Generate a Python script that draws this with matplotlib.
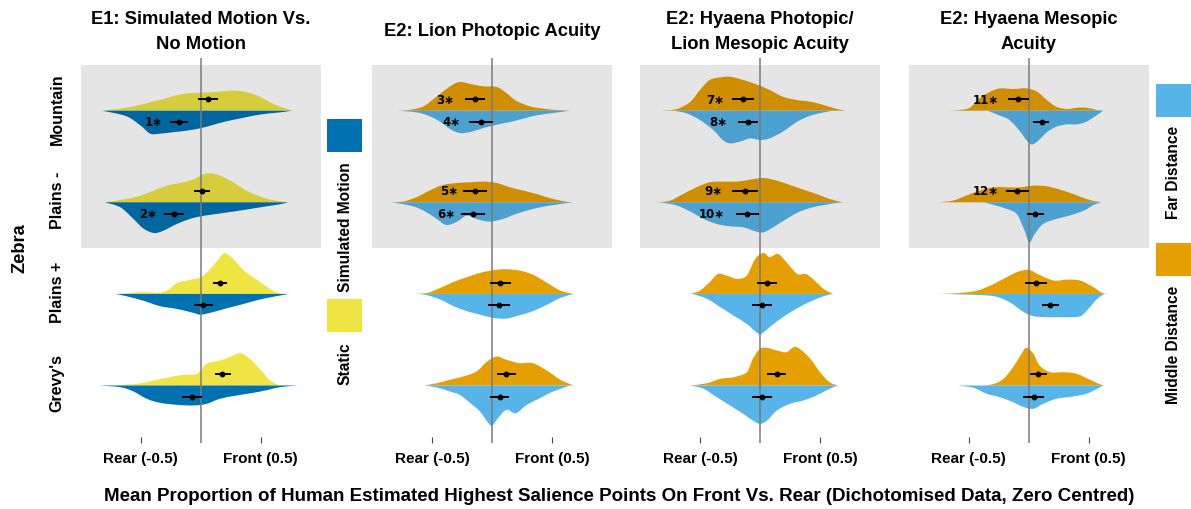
import numpy as np
import matplotlib
matplotlib.use("Agg")
import matplotlib.pyplot as plt
from matplotlib.patches import Rectangle, PathPatch
from matplotlib.path import Path

plt.rcParams['font.family'] = ['Liberation Sans', 'DejaVu Sans']
plt.rcParams['font.weight'] = 'bold'

# ---- data ----
ROWS = ["Mountain", "Plains -", "Plains +", "Grevy's"]
TITLES = ["E1: Simulated Motion Vs.\nNo Motion", "E2: Lion Photopic Acuity",
          "E2: Hyaena Photopic/\nLion Mesopic Acuity", "E2: Hyaena Mesopic\nAcuity"]
TICK_LABELS = ["Rear (-0.5)", "Front (0.5)"]
XLABEL = ("Mean Proportion of Human Estimated Highest Salience Points On Front Vs. Rear "
          "(Dichotomised Data, Zero Centred)")

# half-violin profiles: [x, half height in px] per row (Mountain, Plains -, Plains +, Grevy's)
P1_UPPER = [
    [[-0.82, 0], [-0.8, 0.3], [-0.7, 1.5], [-0.6, 3.5], [-0.5, 6], [-0.4, 9], [-0.3, 12], [-0.2, 15.5], [-0.1, 17.5], [0, 18], [0.1, 18.5], [0.2, 19.5], [0.3, 20], [0.4, 18], [0.5, 13.5], [0.6, 7], [0.7, 2.5], [0.77, 0]],
    [[-0.8, 0], [-0.62, 3.3], [-0.5, 6.7], [-0.39, 11.7], [-0.28, 16.7], [-0.17, 19.3], [-0.06, 23], [0.02, 28], [0.08, 29], [0.16, 26.7], [0.27, 20], [0.38, 11.7], [0.49, 6], [0.6, 2.3], [0.72, 0]],
    [[-0.7, 0], [-0.6, 0.8], [-0.48, 1.7], [-0.34, 1.3], [-0.26, 5], [-0.2, 10.7], [-0.12, 13.3], [0, 16.7], [0.08, 25], [0.15, 35], [0.2, 40.7], [0.27, 35], [0.36, 23.3], [0.49, 12.3], [0.6, 3.3], [0.68, 0]],
    [[-0.75, 0], [-0.53, 1.7], [-0.39, 5], [-0.26, 8.3], [-0.14, 10.7], [-0.03, 11.7], [0.05, 21.7], [0.16, 25], [0.24, 28.3], [0.33, 32.3], [0.41, 26.7], [0.49, 16.7], [0.58, 5], [0.66, 0]],
]
P1_LOWER = [
    [[-0.82, 0], [-0.62, 5.5], [-0.5, 15], [-0.42, 23], [-0.34, 23], [-0.23, 21.5], [-0.12, 20], [0, 17.5], [0.1, 14.3], [0.2, 11], [0.33, 7.7], [0.44, 5], [0.55, 3], [0.66, 1.7], [0.76, 0]],
    [[-0.8, 0], [-0.67, 5], [-0.56, 16.7], [-0.48, 26], [-0.39, 30.7], [-0.31, 28.3], [-0.2, 21.7], [-0.09, 16.7], [0, 14], [0.13, 11.7], [0.27, 9.3], [0.41, 6.7], [0.55, 4], [0.66, 2], [0.73, 0]],
    [[-0.71, 0], [-0.62, 2.3], [-0.48, 6.7], [-0.34, 12.3], [-0.2, 15], [-0.06, 19], [0, 20.7], [0.1, 18.3], [0.22, 14.3], [0.36, 10], [0.49, 5.7], [0.63, 2.3], [0.74, 0]],
    [[-0.85, 0], [-0.67, 1.7], [-0.56, 6], [-0.45, 13.3], [-0.34, 17.3], [-0.2, 19.3], [-0.06, 20], [0.05, 18.3], [0.16, 13.3], [0.3, 10], [0.44, 7.3], [0.55, 4.7], [0.66, 1.7], [0.81, 0]],
]
P2_UPPER = [
    [[-0.78, 0], [-0.68, 1], [-0.57, 4.3], [-0.46, 14.3], [-0.35, 24.3], [-0.27, 28.7], [-0.18, 26.7], [-0.07, 24.3], [0.04, 23.7], [0.12, 17.7], [0.2, 10], [0.32, 4.3], [0.43, 2], [0.54, 0.7], [0.66, 0]],
    [[-0.85, 0], [-0.74, 0.7], [-0.63, 5], [-0.52, 11.7], [-0.41, 17.3], [-0.29, 19.3], [-0.18, 20], [-0.07, 20.7], [0.04, 19.3], [0.15, 15], [0.26, 11.7], [0.37, 8.3], [0.51, 3.3], [0.65, 0]],
    [[-0.66, 0], [-0.54, 1], [-0.43, 6], [-0.32, 12], [-0.21, 16.7], [-0.1, 21], [0.01, 23.7], [0.12, 24.7], [0.23, 23.3], [0.34, 19.3], [0.46, 11], [0.57, 3.3], [0.68, 0]],
    [[-0.57, 0], [-0.46, 2.3], [-0.35, 5.7], [-0.24, 9], [-0.13, 14], [-0.04, 24], [0.04, 29], [0.12, 25.7], [0.23, 22.3], [0.34, 22.3], [0.46, 14.7], [0.57, 5.7], [0.68, 0]],
]
P2_LOWER = [
    [[-0.78, 0], [-0.6, 2.3], [-0.46, 9], [-0.35, 18.3], [-0.27, 22.3], [-0.18, 21.3], [-0.07, 17.3], [0.04, 14], [0.15, 11.3], [0.26, 8], [0.37, 4.7], [0.51, 2.3], [0.65, 0]],
    [[-0.84, 0], [-0.68, 3.3], [-0.57, 8.3], [-0.46, 16.7], [-0.38, 22.7], [-0.29, 19.3], [-0.21, 13.3], [-0.13, 16.7], [-0.02, 19.3], [0.09, 16.7], [0.2, 11.7], [0.34, 6.7], [0.48, 3.3], [0.68, 0]],
    [[-0.62, 0], [-0.54, 1.3], [-0.43, 5.7], [-0.32, 12.3], [-0.21, 17.3], [-0.1, 20.7], [0.01, 24], [0.12, 24.7], [0.23, 21.3], [0.34, 17.3], [0.46, 10.7], [0.57, 4], [0.68, 0]],
    [[-0.57, 0], [-0.46, 2], [-0.35, 6], [-0.27, 9.3], [-0.18, 17.7], [-0.1, 26], [-0.04, 36], [0, 40.3], [0.05, 32.7], [0.12, 24.3], [0.2, 27.7], [0.29, 19.3], [0.4, 12.7], [0.51, 6], [0.65, 0]],
]
P3_UPPER = [
    [[-0.82, 0], [-0.69, 1.7], [-0.58, 9], [-0.5, 20.7], [-0.42, 30.7], [-0.33, 33.3], [-0.25, 34], [-0.14, 30.7], [-0.03, 26.3], [0.08, 20.7], [0.19, 14], [0.31, 10.7], [0.42, 9], [0.53, 5.7], [0.64, 1.7], [0.72, 0]],
    [[-0.86, 0], [-0.75, 1.7], [-0.64, 8.3], [-0.53, 15], [-0.42, 20], [-0.31, 20.7], [-0.19, 20.7], [-0.08, 22.7], [0.03, 24.3], [0.14, 21.7], [0.25, 17.3], [0.36, 12.7], [0.47, 8.3], [0.58, 3.3], [0.69, 0]],
    [[-0.58, 0], [-0.5, 3.3], [-0.42, 11.7], [-0.35, 20], [-0.28, 18.3], [-0.19, 15], [-0.11, 18.3], [-0.04, 35], [0.03, 41], [0.08, 36.7], [0.15, 40], [0.22, 31.7], [0.31, 20], [0.38, 20], [0.44, 15], [0.53, 5], [0.61, 0]],
    [[-0.58, 0], [-0.44, 2.3], [-0.33, 6.7], [-0.22, 8.3], [-0.11, 13.3], [-0.06, 26.7], [0, 36.7], [0.06, 37.7], [0.14, 35], [0.22, 33.3], [0.28, 38.3], [0.33, 36.7], [0.42, 26.7], [0.5, 13.3], [0.58, 3.3], [0.65, 0]],
]
P3_LOWER = [
    [[-0.72, 0], [-0.61, 2.7], [-0.5, 9.3], [-0.39, 19.3], [-0.31, 29.3], [-0.25, 32.7], [-0.17, 31], [-0.08, 27.7], [0, 29.3], [0.08, 27.7], [0.19, 21], [0.31, 11], [0.42, 5], [0.53, 1.7], [0.61, 0]],
    [[-0.85, 0], [-0.8, 0.7], [-0.69, 3.3], [-0.58, 9.3], [-0.47, 16.7], [-0.36, 21.7], [-0.25, 24], [-0.14, 25], [-0.03, 29.3], [0.03, 30], [0.11, 25], [0.22, 16.7], [0.33, 9.3], [0.44, 5], [0.58, 1.7], [0.69, 0]],
    [[-0.56, 0], [-0.44, 5], [-0.33, 13.3], [-0.22, 21.7], [-0.11, 30], [-0.03, 38.3], [0.01, 40], [0.08, 33.3], [0.19, 23.3], [0.31, 14.3], [0.42, 7.7], [0.53, 2.3], [0.61, 0]],
    [[-0.58, 0], [-0.47, 3.3], [-0.36, 11.7], [-0.25, 20], [-0.14, 28.3], [-0.06, 35], [0, 38.3], [0.06, 35], [0.14, 25], [0.25, 18.3], [0.36, 15], [0.47, 10], [0.58, 3.3], [0.65, 0]],
]
P4_UPPER = [
    [[-0.68, 0], [-0.57, 0.7], [-0.49, 3], [-0.41, 12.3], [-0.32, 19], [-0.24, 22.3], [-0.13, 21.7], [-0.02, 22.3], [0.07, 19], [0.15, 10.7], [0.23, 4], [0.32, 1.7], [0.4, 3], [0.48, 3], [0.57, 0.7], [0.62, 0]],
    [[-0.75, 0], [-0.63, 1.7], [-0.52, 6.7], [-0.41, 11.7], [-0.29, 15], [-0.18, 15], [-0.07, 15], [0.04, 16.7], [0.15, 16], [0.26, 12.7], [0.37, 8.3], [0.48, 3.3], [0.57, 0.7], [0.62, 0]],
    [[-0.74, 0], [-0.57, 1], [-0.43, 3.3], [-0.32, 8.3], [-0.21, 15], [-0.1, 21.7], [0, 24], [0.09, 19], [0.21, 13.3], [0.32, 14.3], [0.43, 13.3], [0.54, 6.7], [0.6, 1.7], [0.65, 0]],
    [[-0.38, 0], [-0.29, 1.7], [-0.21, 6.7], [-0.13, 18.3], [-0.06, 31.7], [-0.02, 37.7], [0.04, 31.7], [0.09, 20], [0.18, 13.3], [0.29, 13.3], [0.4, 11.7], [0.51, 5.7], [0.6, 1], [0.63, 0]],
]
P4_LOWER = [
    [[-0.35, 0], [-0.32, 1], [-0.24, 5], [-0.16, 9.3], [-0.07, 21], [-0.02, 29.3], [0.025, 33.7], [0.07, 31], [0.15, 21.7], [0.23, 16], [0.32, 13.7], [0.4, 13.7], [0.48, 11], [0.57, 4.3], [0.62, 0]],
    [[-0.38, 0], [-0.29, 2.7], [-0.18, 6.7], [-0.1, 11.7], [-0.04, 26.7], [0.005, 40], [0.05, 31.7], [0.12, 21.7], [0.23, 16.7], [0.34, 13.3], [0.46, 8.3], [0.54, 2.7], [0.6, 0]],
    [[-0.74, 0], [-0.52, 0.7], [-0.29, 2.3], [-0.16, 8.3], [-0.04, 18.3], [0.04, 22.3], [0.15, 23.3], [0.26, 23.3], [0.37, 23.3], [0.44, 21.7], [0.51, 13.3], [0.57, 5], [0.63, 0]],
    [[-0.59, 0], [-0.46, 2.3], [-0.35, 8.3], [-0.24, 11.7], [-0.13, 16.7], [-0.04, 21.7], [0.04, 23.3], [0.12, 18.3], [0.23, 13.3], [0.37, 11], [0.48, 8.3], [0.57, 3.3], [0.62, 0]],
]

# means with interval (mean, low, high) per row
P1_UPPER_MEANS = [(0.064, -0.02, 0.14), (0.01, -0.055, 0.08), (0.16, 0.105, 0.217), (0.18, 0.12, 0.25)]
P1_LOWER_MEANS = [(-0.18, -0.256, -0.108), (-0.22, -0.31, -0.14), (0.02, -0.06, 0.1), (-0.075, -0.16, 0.01)]
P2_UPPER_MEANS = [(-0.14, -0.225, -0.058), (-0.14, -0.245, -0.04), (0.067, -0.02, 0.155), (0.12, 0.04, 0.2)]
P2_LOWER_MEANS = [(-0.09, -0.19, 0.01), (-0.16, -0.26, -0.06), (0.058, -0.03, 0.15), (0.067, -0.017, 0.145)]
P3_UPPER_MEANS = [(-0.144, -0.236, -0.05), (-0.125, -0.236, -0.014), (0.056, -0.028, 0.14), (0.14, 0.06, 0.217)]
P3_LOWER_MEANS = [(-0.097, -0.18, -0.014), (-0.105, -0.2, -0.006), (0.014, -0.07, 0.1), (0.02, -0.064, 0.097)]
P4_UPPER_MEANS = [(-0.086, -0.17, 0.0), (-0.094, -0.19, 0.006), (0.06, -0.03, 0.15), (0.08, 0.01, 0.15)]
P4_LOWER_MEANS = [(0.108, 0.033, 0.17), (0.053, -0.017, 0.128), (0.18, 0.11, 0.255), (0.04, -0.05, 0.13)]

# significance marks: (row, upper?, number, x)
P1_MARKS = [(0, False, "1", -0.39), (1, False, "2", -0.44)]
P2_MARKS = [(0, True, "3", -0.39), (0, False, "4", -0.34), (1, True, "5", -0.36), (1, False, "6", -0.38)]
P3_MARKS = [(0, True, "7", -0.375), (0, False, "8", -0.35), (1, True, "9", -0.39), (1, False, "10", -0.4)]
P4_MARKS = [(0, True, "11", -0.36), (1, True, "12", -0.36)]

E1_COLOURS = ("#F0E442", "#0072B2")   # static (upper), simulated motion (lower)
E2_COLOURS = ("#E69F00", "#56B4E9")   # middle (upper), far (lower)

# ---- layout (px of the 1191x510 picture) ----
W, H = 1191, 510
ROW_PX = 91.6
ROW0_PX = 111.7
AX_TOP, AX_BOT = 59, 444
PANEL_LEFT = [80.7, 372, 640, 908.7]
PANEL_W = 240
BAR_OFF = 11.3 / ROW_PX

fig = plt.figure(figsize=(W / 100, H / 100), dpi=100)


def fx(px):
    return px / W


def fy(py):
    return 1 - py / H


def half_violin(ax, row, prof, colour, sign):
    # smooth outline through the read points (Catmull-Rom drawn as Bezier curves)
    pts = np.array(prof, dtype=float)
    n = len(pts)
    verts = [(pts[0, 0], row)]
    codes = [Path.MOVETO]
    for i in range(n - 1):
        p0 = pts[max(i - 1, 0)]
        p1 = pts[i]
        p2 = pts[i + 1]
        p3 = pts[min(i + 2, n - 1)]
        c1 = p1 + (p2 - p0) / 6
        c2 = p2 - (p3 - p1) / 6
        for c in (c1, c2, p2):
            verts.append((c[0], row + sign * max(c[1], 0) / ROW_PX))
            codes.append(Path.CURVE4)
    verts.append((pts[0, 0], row))
    codes.append(Path.LINETO)
    verts.append((pts[0, 0], row))
    codes.append(Path.CLOSEPOLY)
    ax.add_patch(PathPatch(Path(verts, codes), facecolor=colour, lw=0, zorder=2))


panels = [
    (P1_UPPER, P1_LOWER, P1_UPPER_MEANS, P1_LOWER_MEANS, P1_MARKS, E1_COLOURS),
    (P2_UPPER, P2_LOWER, P2_UPPER_MEANS, P2_LOWER_MEANS, P2_MARKS, E2_COLOURS),
    (P3_UPPER, P3_LOWER, P3_UPPER_MEANS, P3_LOWER_MEANS, P3_MARKS, E2_COLOURS),
    (P4_UPPER, P4_LOWER, P4_UPPER_MEANS, P4_LOWER_MEANS, P4_MARKS, E2_COLOURS),
]

ymin = (AX_TOP - ROW0_PX) / ROW_PX
ymax = (AX_BOT - ROW0_PX) / ROW_PX

for k, (upper, lower, umeans, lmeans, marks, cols) in enumerate(panels):
    ax = fig.add_axes([fx(PANEL_LEFT[k]), fy(AX_BOT), PANEL_W / W, (AX_BOT - AX_TOP) / H])
    ax.set_xlim(-1, 1)
    ax.set_ylim(ymax, ymin)
    for s in ax.spines.values():
        s.set_visible(False)

    for row in range(len(ROWS)):
        half_violin(ax, row, upper[row], cols[0], -1)
        half_violin(ax, row, lower[row], cols[1], 1)

        for (m, a, b), yy in ((umeans[row], row - BAR_OFF), (lmeans[row], row + BAR_OFF)):
            ax.plot([a, b], [yy, yy], color="black", lw=1.4, zorder=6, solid_capstyle="butt")
            ax.plot(m, yy, "o", color="black", ms=3.2, zorder=7)

    for row, is_up, num, x in marks:
        yy = row - BAR_OFF if is_up else row + BAR_OFF
        ax.text(x, yy, num + "\u2217", ha="center", va="center", fontsize=8.5,
                fontweight="bold", family=["DejaVu Sans"], zorder=7)

    # shaded block for the first two zebra rows
    ax.add_patch(Rectangle((-1, -0.5), 2, 2, facecolor="black", alpha=0.1, lw=0, zorder=3))
    ax.axvline(0, color="#7a7a7a", lw=1.1, zorder=5)

    ax.set_yticks([])
    ax.set_xticks([-0.5, 0.5])
    ax.set_xticklabels(TICK_LABELS, fontsize=11, fontweight="bold")
    ax.tick_params(axis="x", direction="in", length=4, width=0.8, color="#444444", pad=6)

    fig.text(fx(PANEL_LEFT[k] + PANEL_W / 2), fy(32), TITLES[k], ha="center", va="center",
             fontsize=13.2, fontweight="bold", linespacing=1.6)

# row labels and species label
for i, name in enumerate(ROWS):
    fig.text(fx(57), fy(ROW0_PX - 3 + i * ROW_PX), name, rotation=90, ha="center", va="center",
             fontsize=11.5, fontweight="bold")
fig.text(fx(20), fy(248), "Zebra", rotation=90, ha="center", va="center",
         fontsize=13.2, fontweight="bold")


# legend blocks
def legend_block(x0, y0, colour, label, label_y):
    fig.add_artist(Rectangle((fx(x0), fy(y0 + 33)), 35 / W, 33 / H, facecolor=colour, lw=0,
                             transform=fig.transFigure))
    fig.text(fx(x0 + 18), fy(label_y), label, rotation=90, ha="center", va="center",
             fontsize=11.2, fontweight="bold")


legend_block(327, 120, E1_COLOURS[1], "Simulated Motion", 227)
legend_block(327, 300, E1_COLOURS[0], "Static", 364)
legend_block(1156, 85, E2_COLOURS[1], "Far Distance", 172)
legend_block(1156, 244, E2_COLOURS[0], "Middle Distance", 345)

fig.text(fx(619), fy(497), XLABEL, ha="center", va="center", fontsize=13.5, fontweight="bold")

fig.savefig("out.png", dpi=100)
